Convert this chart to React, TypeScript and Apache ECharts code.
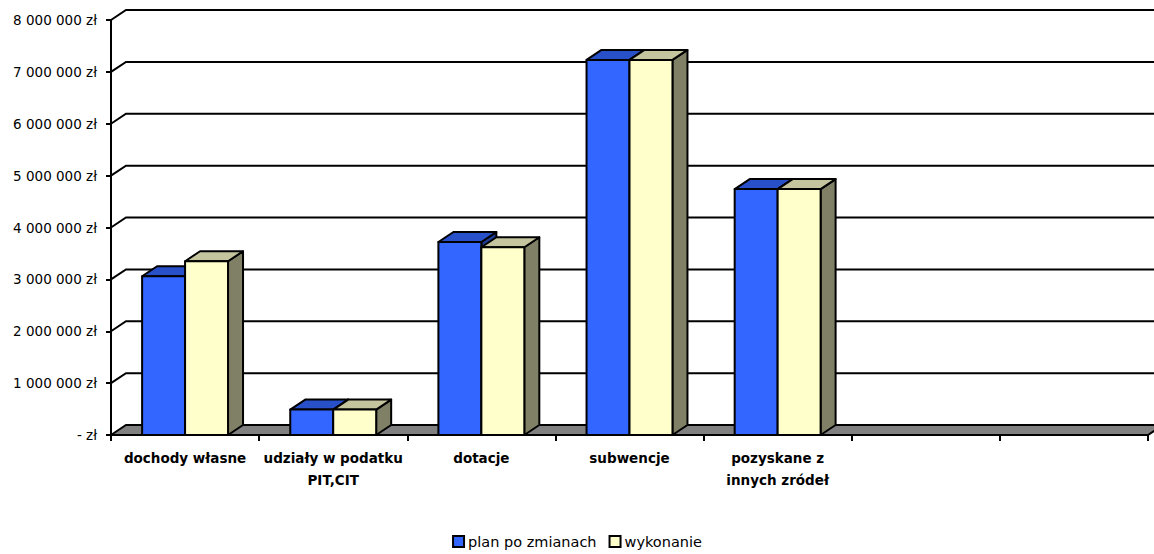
import React, { useEffect, useRef } from "react";
import * as echarts from "echarts";

const CATEGORIES = [
  "dochody własne",
  "udziały w podatku\nPIT,CIT",
  "dotacje",
  "subwencje",
  "pozyskane z\ninnych zródeł",
  "",
  "",
];
const PLAN = [3060000, 490000, 3720000, 7230000, 4740000];
const WYKONANIE = [3350000, 490000, 3620000, 7230000, 4740000];
const Y_TICKS = [0, 1000000, 2000000, 3000000, 4000000, 5000000, 6000000, 7000000, 8000000];
const SERIES_NAMES = ["plan po zmianach", "wykonanie"];

const DX = 15;
const DY = 10;

const fmt = (v: number) =>
  v === 0 ? "- zł" : String(v).replace(/\B(?=(\d{3})+(?!\d))/g, " ") + " zł";

function barRenderer(offset: number, front: string, top: string, side: string) {
  return (params: any, api: any) => {
    const idx = api.value(0);
    const v = api.value(1);
    const pt = api.coord([idx, v]);
    const p0 = api.coord([idx, 0]);
    const band = api.size([1, 0])[0];
    const w = band * 0.29;
    const cx = pt[0];
    const yt = pt[1];
    const y0 = p0[1];
    const xL = offset === 0 ? cx - w : cx;
    const xR = xL + w;
    const stroke = { stroke: "#000", lineWidth: 2, lineJoin: "round" };
    return {
      type: "group",
      children: [
        {
          type: "polygon",
          shape: { points: [[xR, yt], [xR + DX, yt - DY], [xR + DX, y0 - DY], [xR, y0]] },
          style: { fill: side, ...stroke },
        },
        {
          type: "polygon",
          shape: { points: [[xL, yt], [xL + DX, yt - DY], [xR + DX, yt - DY], [xR, yt]] },
          style: { fill: top, ...stroke },
        },
        {
          type: "rect",
          shape: { x: xL, y: yt, width: w, height: y0 - yt },
          style: { fill: front, ...stroke },
        },
      ],
    };
  };
}

export default function App() {
  const ref = useRef<HTMLDivElement>(null);
  useEffect(() => {
    if (!ref.current) return;
    const chart = echarts.init(ref.current, null, { renderer: "svg" });
    const font = "'DejaVu Sans', Arial, sans-serif";
    chart.setOption({
      animation: false,
      backgroundColor: "#fff",
      grid: { left: 111, top: 20, right: 6, bottom: 119, containLabel: false },
      legend: {
        bottom: 0,
        left: "center",
        itemWidth: 11,
        itemHeight: 11,
        itemGap: 12,
        textStyle: { fontFamily: font, fontSize: 14.5, color: "#000", padding: [0, 0, 0, -1] },
        data: [
          { name: SERIES_NAMES[0], icon: "rect", itemStyle: { color: "#3366FF", borderColor: "#000", borderWidth: 2 } },
          { name: SERIES_NAMES[1], icon: "rect", itemStyle: { color: "#FFFFCC", borderColor: "#000", borderWidth: 2 } },
        ],
      },
      xAxis: {
        type: "category",
        data: CATEGORIES,
        boundaryGap: true,
        axisLine: { show: true, lineStyle: { color: "#000", width: 2 } },
        axisTick: { show: true, length: 6, lineStyle: { color: "#000", width: 2 } },
        axisLabel: {
          interval: 0,
          margin: 12,
          color: "#000",
          fontFamily: font,
          fontWeight: "bold",
          fontSize: 13.5,
          lineHeight: 22,
        },
        splitLine: { show: false },
      },
      yAxis: {
        type: "value",
        min: 0,
        max: 8000000,
        interval: 1000000,
        axisLine: { show: true, lineStyle: { color: "#000", width: 2 } },
        axisTick: { show: true, length: 5, lineStyle: { color: "#000", width: 2 } },
        axisLabel: { formatter: fmt, color: "#000", fontFamily: font, fontSize: 13.5, margin: 14 },
        splitLine: { show: false },
      },
      series: [
        {
          type: "custom",
          name: "walls",
          z: 1,
          silent: true,
          clip: false,
          data: Y_TICKS.map((v) => [0, v]),
          renderItem: (params: any, api: any) => {
            const v = api.value(1);
            const y = api.coord([0, v])[1];
            const cs = params.coordSys;
            const x0 = cs.x;
            const x1 = cs.x + cs.width;
            if (v === 0) {
              return {
                type: "polygon",
                shape: { points: [[x0, y], [x0 + DX, y - DY], [x1 + DX, y - DY], [x1, y]] },
                style: { fill: "#808080", stroke: "#000", lineWidth: 2 },
              };
            }
            return {
              type: "polyline",
              shape: { points: [[x0, y], [x0 + DX, y - DY], [x1 + DX, y - DY]] },
              style: { fill: "none", stroke: "#000", lineWidth: 2 },
            };
          },
        },
        {
          type: "custom",
          name: SERIES_NAMES[0],
          z: 3,
          clip: false,
          itemStyle: { color: "#3366FF" },
          data: PLAN.map((v, i) => [i, v]),
          renderItem: barRenderer(0, "#3366FF", "#2850C8", "#1E3C96"),
        },
        {
          type: "custom",
          name: SERIES_NAMES[1],
          z: 4,
          clip: false,
          itemStyle: { color: "#FFFFCC" },
          data: WYKONANIE.map((v, i) => [i, v]),
          renderItem: barRenderer(1, "#FFFFCC", "#C4C49E", "#808066"),
        },
      ],
    });
    return () => chart.dispose();
  }, []);
  return (
    <div
      ref={ref}
      style={{ position: "absolute", left: 0, top: 0, width: 1154, height: 554 }}
    />
  );
}
